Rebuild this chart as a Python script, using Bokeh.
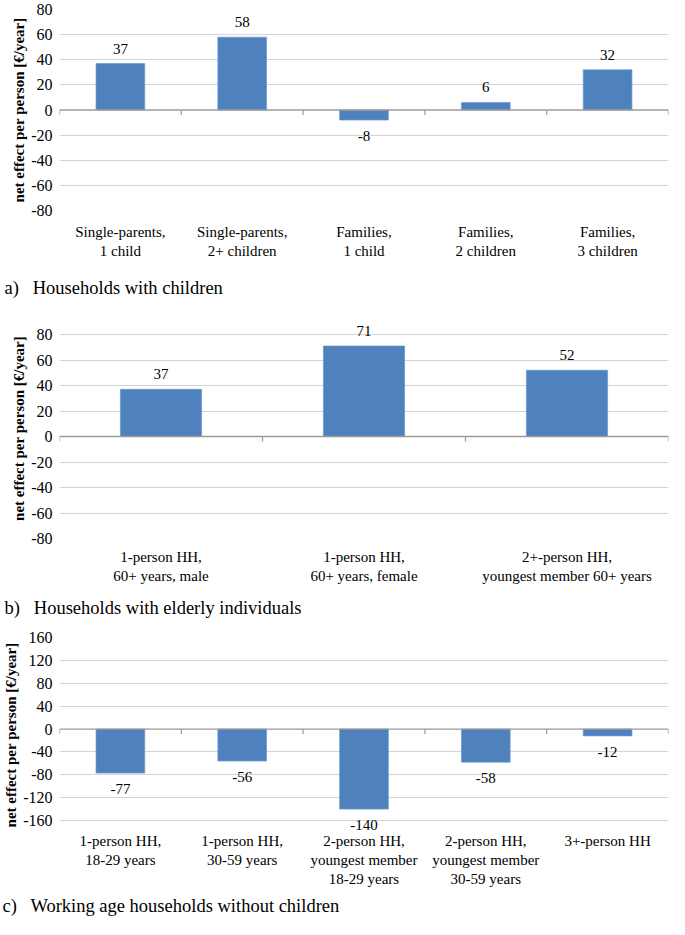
from bokeh.plotting import figure
from bokeh.models import FactorRange, Range1d, FixedTicker, ColumnDataSource, LabelSet
from bokeh.layouts import column
from bokeh.embed import file_html
from bokeh.resources import INLINE

# ---- data ----
cats_a = ["Single-parents,\n1 child", "Single-parents,\n2+ children", "Families,\n1 child",
          "Families,\n2 children", "Families,\n3 children"]
vals_a = [37, 58, -8, 6, 32]
ticks_a = [-80, -60, -40, -20, 0, 20, 40, 60, 80]
caption_a = "a)\u2002 Households with children"

cats_b = ["1-person HH,\n60+ years, male", "1-person HH,\n60+ years, female",
          "2+-person HH,\nyoungest member 60+ years"]
vals_b = [37, 71, 52]
ticks_b = [-80, -60, -40, -20, 0, 20, 40, 60, 80]
caption_b = "b)\u2002 Households with elderly individuals"

cats_c = ["1-person HH,\n18-29 years", "1-person HH,\n30-59 years",
          "2-person HH,\nyoungest member\n18-29 years", "2-person HH,\nyoungest member\n30-59 years",
          "3+-person HH"]
vals_c = [-77, -56, -140, -58, -12]
ticks_c = [-160, -120, -80, -40, 0, 40, 80, 120, 160]
caption_c = "c)\u2002 Working age households without children"

y_title = "net effect per person [€/year]"

FONT = "Liberation Serif"
BAR = "#4F81BD"


def make_panel(cats, vals, ticks, caption, height, top, grid_h, pad_top, pad_bot,
               left, lab_standoff, title_standoff, title_shift):
    lo, hi = ticks[0], ticks[-1]
    ppu = grid_h / (hi - lo)          # pixels per data unit between outer gridlines
    frame_h = grid_h + pad_top + pad_bot
    bottom = height - top - frame_h
    p = figure(width=669, height=height, x_range=FactorRange(*cats, range_padding=0),
               y_range=Range1d(lo - pad_bot / ppu, hi + pad_top / ppu),
               output_backend="svg", toolbar_location=None,
               min_border_top=top, min_border_bottom=bottom, min_border_left=left,
               min_border_right=1, title=caption, title_location="below")
    p.outline_line_color = None
    p.background_fill_color = "white"

    src = ColumnDataSource(dict(x=cats, top=vals,
                                lbl=[str(v) for v in vals],
                                off=[15 if v >= 0 else -16 for v in vals]))
    p.vbar(x="x", top="top", bottom=0, width=0.4, source=src, fill_color=BAR,
           line_color="#6a9bd4", line_width=0.7)
    labels = LabelSet(x="x", y="top", text="lbl", y_offset="off", source=src,
                      text_align="center", text_baseline="middle", text_font=FONT,
                      text_font_size="15px", text_color="black")
    p.add_layout(labels)

    # category axis line at zero with boundary ticks
    n = len(cats)
    tick_len = 5 / ppu
    p.segment(x0=[0], x1=[n], y0=[0], y1=[0], line_color="#9a9a9a", line_width=1.3)
    p.segment(x0=list(range(n + 1)), x1=list(range(n + 1)), y0=[0] * (n + 1),
              y1=[-tick_len] * (n + 1), line_color="#9a9a9a", line_width=1.2)

    p.xgrid.grid_line_color = None
    p.ygrid.grid_line_color = "#d4d4d4"
    p.ygrid.grid_line_width = 1.2
    p.ygrid.ticker = FixedTicker(ticks=[t for t in ticks if t != 0])

    p.yaxis.ticker = FixedTicker(ticks=ticks)
    p.yaxis.major_label_overrides = {t: str(t) for t in ticks}
    p.yaxis.axis_line_color = None
    p.yaxis.major_tick_line_color = None
    p.yaxis.minor_tick_line_color = None
    p.yaxis.major_tick_in = 0
    p.yaxis.major_tick_out = 0
    p.yaxis.major_label_text_font = FONT
    p.yaxis.major_label_text_font_size = "16px"
    p.yaxis.major_label_text_color = "black"
    p.yaxis.major_label_standoff = 7
    p.yaxis.axis_label = y_title
    p.yaxis.axis_label_text_font = FONT
    p.yaxis.axis_label_text_font_style = "bold"
    p.yaxis.axis_label_text_font_size = "15px"
    p.yaxis.axis_label_text_color = "black"
    p.yaxis.axis_label_standoff = 1

    p.xaxis.axis_line_color = None
    p.xaxis.major_tick_line_color = None
    p.xaxis.major_tick_in = 0
    p.xaxis.major_tick_out = 0
    p.xaxis.major_label_text_font = FONT
    p.xaxis.major_label_text_font_size = "15px"
    p.xaxis.major_label_text_color = "black"
    p.xaxis.major_label_standoff = lab_standoff

    p.title.text_font = FONT
    p.title.text_font_size = "18.5px"
    p.title.text_font_style = "normal"
    p.title.text_color = "black"
    p.title.align = "left"
    p.title.offset = -(left + title_shift)
    p.title.standoff = title_standoff
    return p


pa = make_panel(cats_a, vals_a, ticks_a, caption_a, 316, 9, 201, 0, 0, 47, 13, 28, 8)
pb = make_panel(cats_b, vals_b, ticks_b, caption_b, 311, 2, 204, 16, 0, 47, 10, 19, 8)
pc = make_panel(cats_c, vals_c, ticks_c, caption_c, 292, 10, 184, 0, 12, 56, 0, 8, 1)

layout = column(pa, pb, pc, spacing=0)
open("out.html", "w").write(file_html(layout, INLINE))
